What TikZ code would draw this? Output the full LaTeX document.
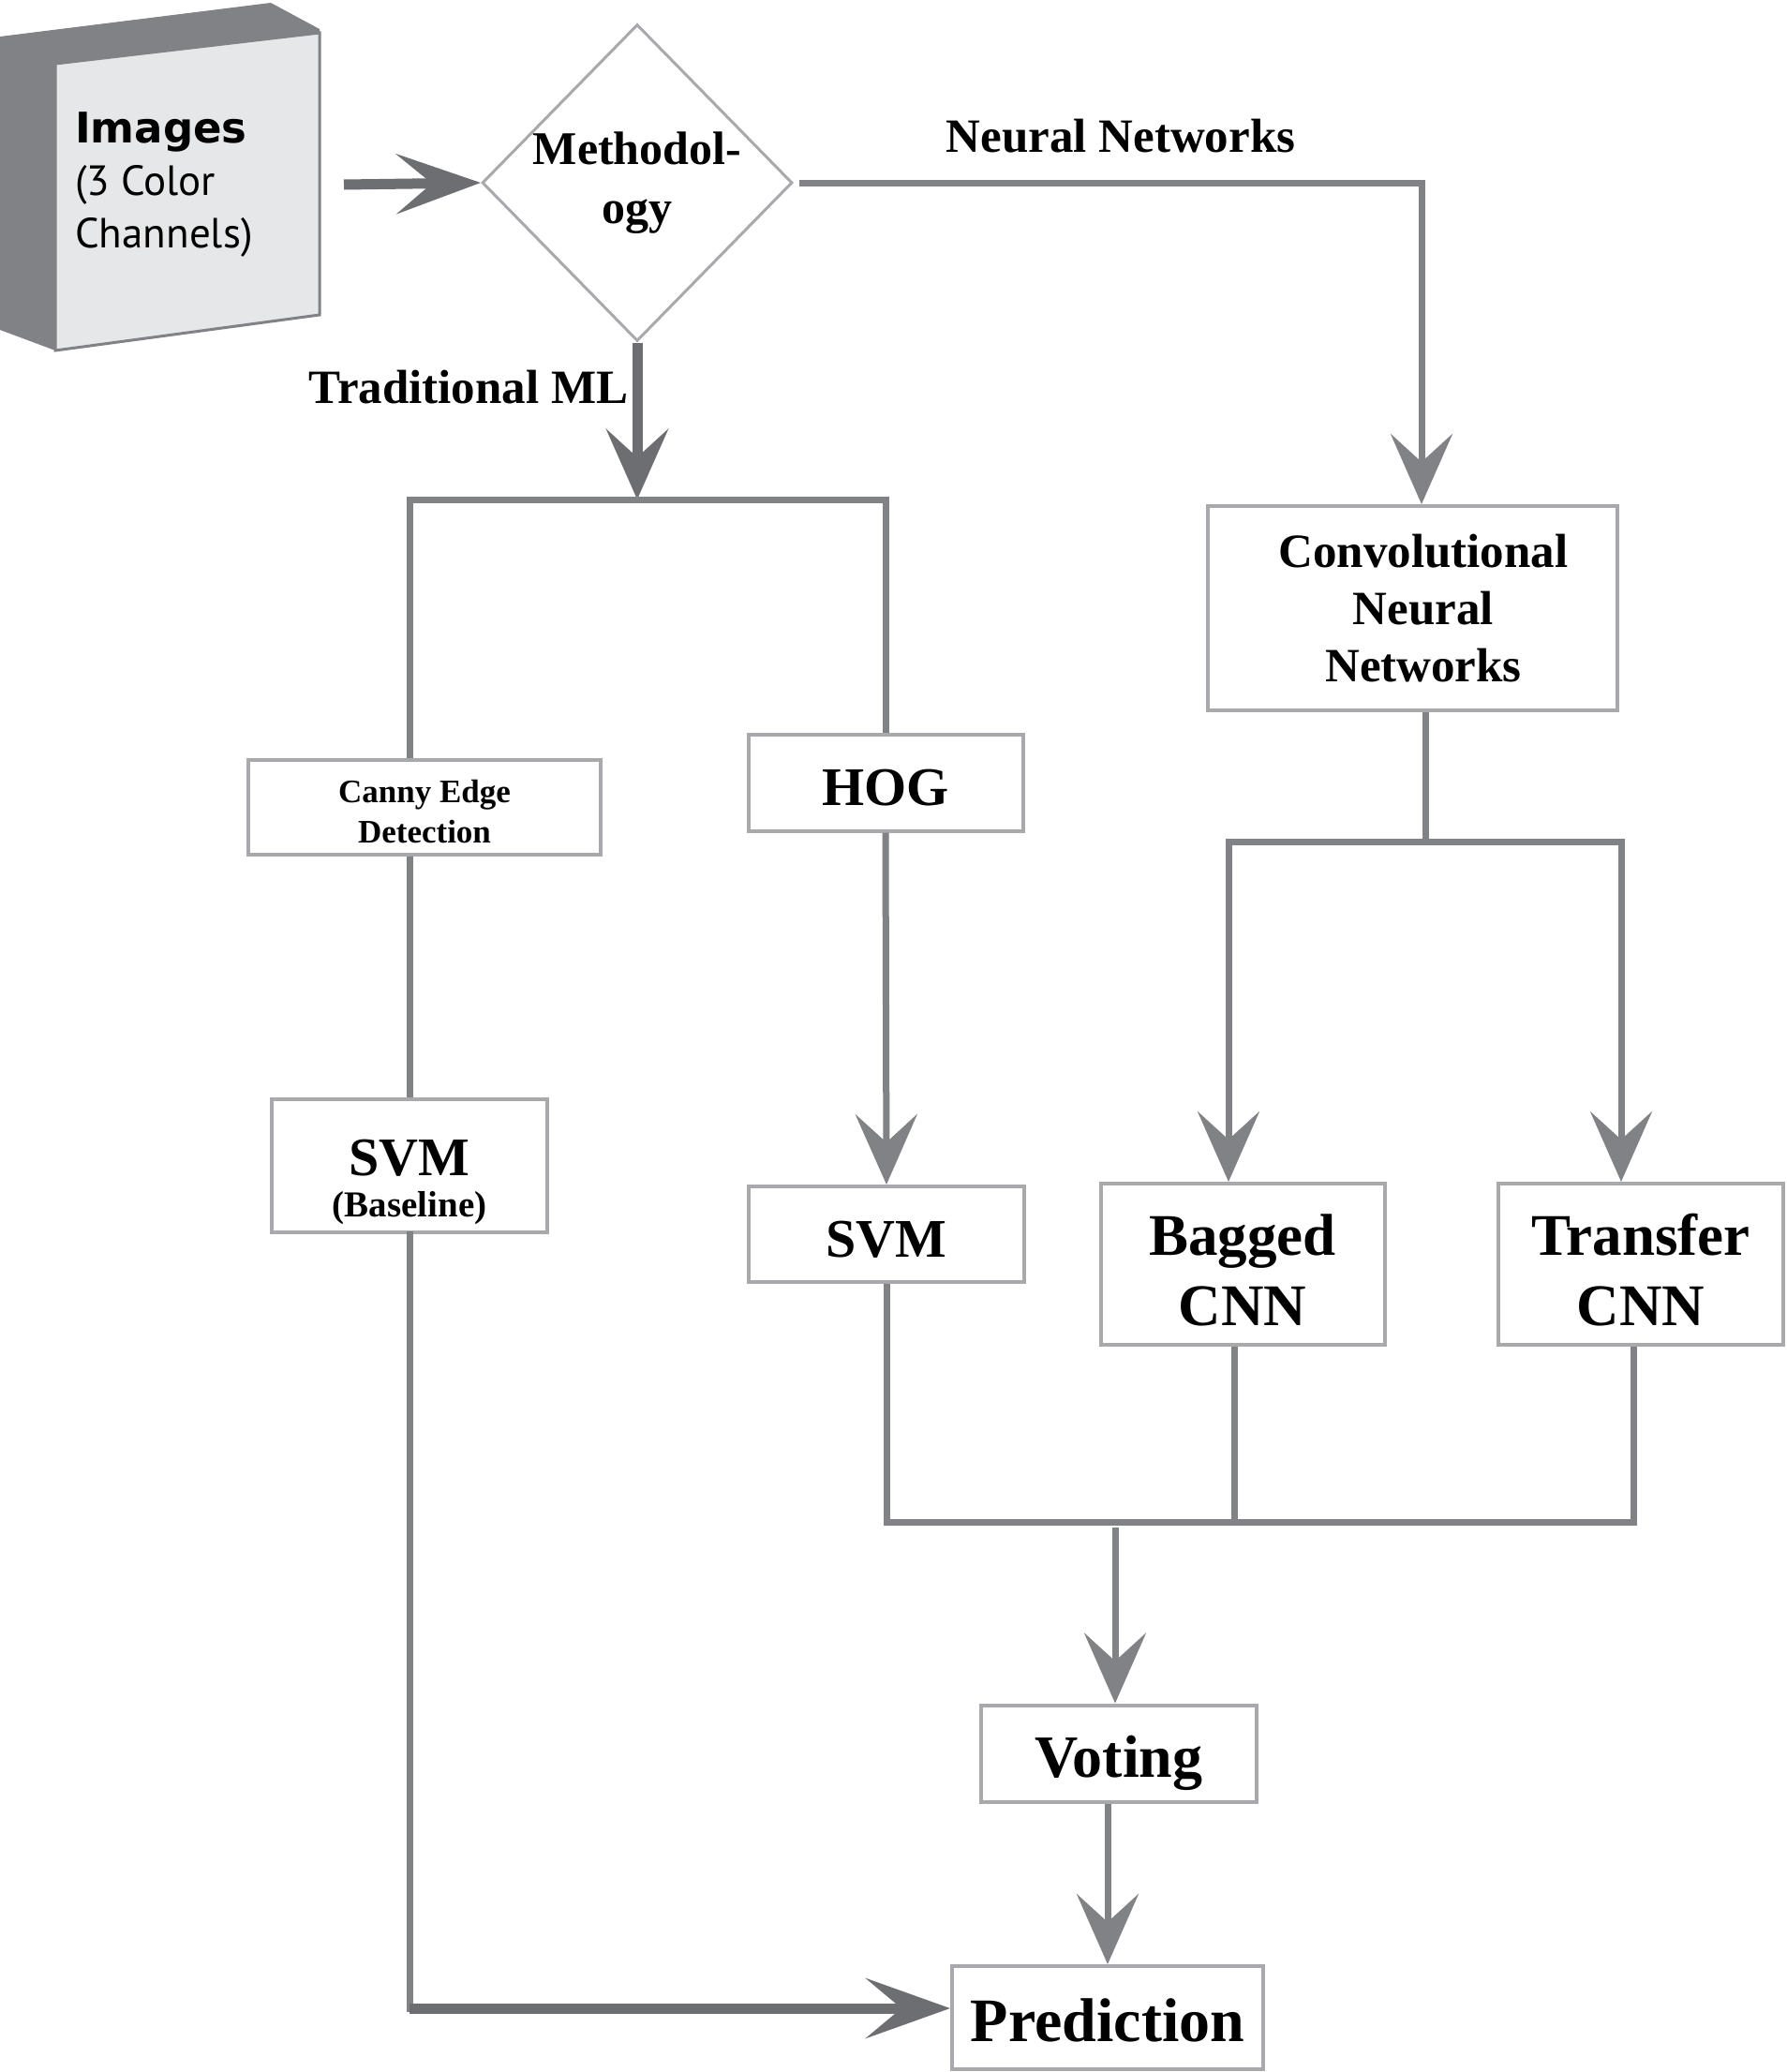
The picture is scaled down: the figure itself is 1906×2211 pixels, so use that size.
\documentclass[tikz,border=0pt]{standalone}
\usepackage{fontspec}
\setmainfont{Liberation Serif}
\newfontfamily\imgfont{PT Sans}
\newfontfamily\imgbold{DejaVu Sans}
\usetikzlibrary{arrows.meta,shapes.geometric}
\definecolor{linegray}{HTML}{808285}
\definecolor{linedark}{HTML}{6D6E71}
\definecolor{boxgray}{HTML}{A7A9AC}
\definecolor{facegray}{HTML}{E6E7E8}
\tikzset{
  box/.style={rectangle,draw=boxgray,line width=4pt,inner sep=0pt,align=center},
  conn/.style={draw=linegray,line width=7pt},
  tipconn/.style={conn,-{Stealth[length=75pt,width=66pt,inset=30pt]}},
  boldconn/.style={draw=linedark,line width=11pt},
  bigtip/.style={-{Stealth[length=90pt,width=64pt,inset=38pt]}},
  lbl/.style={inner sep=0pt,font=\bfseries\fontsize{51}{60}\selectfont}
}

\begin{document}
\begin{tikzpicture}[x=1pt,y=-1pt]
  \useasboundingbox (0,0) rectangle (1906,2211);

  % image stack
  \fill[linegray] (0,39) -- (289,3) -- (341,31) -- (341,336) -- (59,374) -- (0,352) -- cycle;
  \filldraw[fill=facegray,draw=linegray,line width=3pt] (59,68) -- (341,35) -- (341,336) -- (59,374) -- cycle;
  \node[anchor=west,align=left,inner sep=0pt,font=\imgfont\fontsize{45}{56}\selectfont] (img) at (80,197) {{\imgbold\bfseries Images}\\(3 Color\\Channels)};
  \coordinate (imgR) at (367,197);

  \node[diamond,draw=boxgray,line width=3pt,minimum width=331pt,minimum height=338pt,inner sep=0pt,align=center,font=\bfseries\fontsize{50}{63}\selectfont] (meth) at (680,195) {Methodol-\\ogy};

  \node[box,minimum width=376pt,minimum height=101pt,font=\bfseries\fontsize{35}{43}\selectfont] (canny) at (453,861) {\rule{0pt}{34pt}Canny Edge\\Detection};
  \node[box,minimum width=293pt,minimum height=103pt,text height=48pt,text depth=0pt,font=\bfseries\fontsize{58}{70}\selectfont] (hog) at (945,835) {HOG};
  \node[box,minimum width=294pt,minimum height=142pt,font=\bfseries\fontsize{39}{44}\selectfont] (svmb) at (437,1244) {{\fontsize{58}{58}\selectfont\rule{0pt}{74pt}SVM}\\(Baseline)};
  \node[box,minimum width=294pt,minimum height=102pt,text height=48pt,text depth=0pt,font=\bfseries\fontsize{58}{70}\selectfont] (svm) at (946,1317) {SVM};
  \node[box,minimum width=437pt,minimum height=218pt,font=\bfseries\fontsize{51}{61}\selectfont] (cnn) at (1507,649) {\hspace*{24pt}Convolutional\\\hspace*{24pt}Neural\\\hspace*{24pt}Networks};
  \node[box,minimum width=303pt,minimum height=172pt,font=\bfseries\fontsize{63}{75}\selectfont] (bag) at (1326,1349) {\rule{0pt}{57pt}Bagged\\CNN};
  \node[box,minimum width=304pt,minimum height=172pt,font=\bfseries\fontsize{63}{75}\selectfont] (trans) at (1751,1349) {\rule{0pt}{57pt}Transfer\\CNN};
  \node[box,minimum width=294pt,minimum height=103pt,text height=50pt,text depth=0pt,font=\bfseries\fontsize{64}{70}\selectfont] (vote) at (1194,1871) {Voting};
  \node[box,minimum width=332pt,minimum height=110pt,text height=51pt,text depth=0pt,font=\bfseries\fontsize{66}{70}\selectfont] (pred) at (1182,2153) {Prediction};

  \node[lbl] (nnlbl)  at (1196,145) {Neural Networks};
  \node[lbl] (tmllbl) at (500,413)  {Traditional ML};

  \coordinate (tsplit) at (680,533);
  \coordinate (csplit) at (1521,898);
  \coordinate (vsplit) at (1190,1624);
  \coordinate (pin) at ([yshift=10pt]pred.west);

  \draw[boldconn,bigtip] (imgR) -- (meth.west);
  \draw[tipconn] ([xshift=6pt]meth.east) -| ([xshift=10pt]cnn.north);
  \draw[boldconn,-{Stealth[length=75pt,width=66pt,inset=30pt]}] (meth.south) -- (tsplit);

  % traditional branch
  \draw[conn] (svmb.north |- canny.north) |- (tsplit) -| (hog.north);
  \draw[conn] (svmb.north |- canny.south) -- (svmb.north);
  \draw[tipconn] (hog.south) -- (svm.north);

  % cnn branch
  \draw[conn] ([xshift=14pt]cnn.south) -- (csplit);
  \draw[tipconn] (csplit) -| ([xshift=-15pt]bag.north);
  \draw[tipconn] (csplit) -| ([xshift=-21pt]trans.north);

  % merge
  \draw[conn] (svm.south) |- (vsplit);
  \draw[conn] ([xshift=-8pt]trans.south) |- (vsplit);
  \draw[conn] ([xshift=-9pt]bag.south) -- ([xshift=-9pt]bag.south |- vsplit);
  \draw[tipconn] ([yshift=-6pt]vsplit) -- (vsplit |- vote.north);
  \draw[tipconn] (pred.north |- vote.south) -- (pred.north);

  % baseline
  \draw[conn,line cap=rect] (svmb.south) -- (svmb.south |- pin);
  \draw[boldconn,bigtip] (svmb.south |- pin) -- (pin);
\end{tikzpicture}
\end{document}
